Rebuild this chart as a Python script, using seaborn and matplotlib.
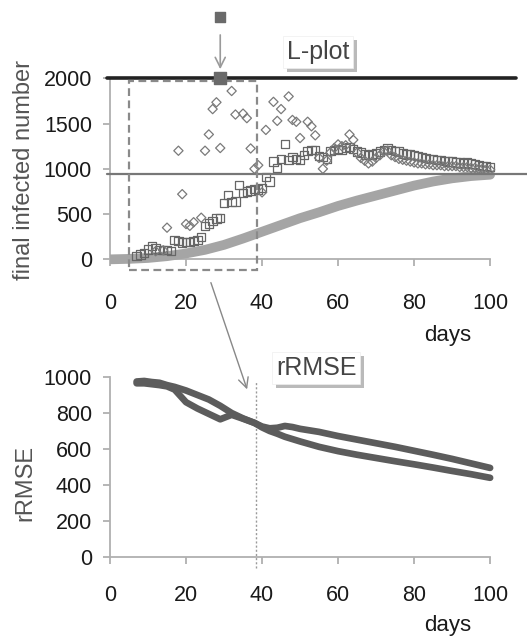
import numpy as np
import pandas as pd
import matplotlib
matplotlib.use("Agg")
import matplotlib.pyplot as plt
import matplotlib.patches as mpatches
import matplotlib.patheffects as pe
import seaborn as sns

# ---------------- data ----------------
sq_days = list(range(7, 101))
sq_vals = [40, 55, 70, 110, 150, 120, 100, 105, 100, 95,            # 7-16
           210, 200, 185, 195, 190, 200, 215, 250, 370, 395,        # 17-26
           420, 450, 460, 620, 710, 630, 640, 820, 730, 750,        # 27-36
           760, 780, 770, 790, 910, 860, 1080, 1010, 1110, 1275,    # 37-46
           1100, 1130, 1110, 1100, 1150, 1200, 1205, 1210, 1140, 1130,  # 47-56
           1110, 1200, 1210, 1220, 1210, 1230, 1240, 1220, 1190, 1180,  # 57-66
           1160, 1150, 1160, 1170, 1190, 1210, 1225, 1210, 1200, 1190,  # 67-76
           1170, 1160, 1160, 1150, 1140, 1130, 1120, 1110, 1110, 1100,  # 77-86
           1100, 1090, 1080, 1080, 1070, 1070, 1060, 1070, 1060, 1050,  # 87-96
           1040, 1030, 1030, 1020]                                  # 97-100

di_days = [12, 14, 15, 18, 19, 20, 21, 22, 24, 25, 26, 27, 28, 29, 32, 33, 35, 36,
           37, 38, 39, 40, 41, 43, 44, 45, 47, 48, 49, 50, 52, 53, 54, 55, 56, 57,
           58, 59, 60, 61, 62, 63, 64, 65, 66, 67, 68, 69, 70, 71, 72, 73, 74, 75,
           76, 77, 78, 79, 80, 81, 82, 83, 84, 85, 86, 87, 88, 89, 90, 91, 92, 93,
           94, 95, 96, 97, 98, 99, 100]
di_vals = [90, 100, 350, 1200, 720, 390, 370, 410, 460, 1200, 1380, 1660, 1735, 1230,
           1860, 1600, 1610, 1560, 1225, 1000, 1040, 740, 1430, 1740, 1530, 1660, 1800,
           1540, 1520, 1340, 1520, 1470, 1370, 1120, 1000, 1090, 1180, 1230, 1270, 1250,
           1260, 1380, 1320, 1180, 1120, 1090, 1060, 1080, 1120, 1150, 1190, 1200, 1150,
           1130, 1110, 1100, 1090, 1080, 1070, 1060, 1060, 1050, 1050, 1040, 1040, 1040,
           1030, 1030, 1030, 1030, 1020, 1020, 1020, 1010, 1010, 1000, 1000, 990, 990]

cum_days = [0, 5, 10, 15, 20, 25, 30, 35, 40, 45, 50, 55, 60, 65, 70, 75, 80, 85, 90, 95, 100]
cum_vals = [0, 5, 15, 35, 65, 105, 160, 230, 305, 380, 455, 520, 590, 650, 705, 760, 815, 860, 895, 920, 935]

best_day = 29
best_val = 2000
threshold = 2000
converged = 940

rm_days = [7, 9, 11, 13, 15, 17, 20, 23, 26, 29, 32, 35, 38, 40, 42, 44, 46, 48, 50,
           55, 60, 65, 70, 75, 80, 85, 90, 95, 100]
rm_a = [975, 978, 972, 968, 955, 945, 925, 900, 875, 840, 800, 770, 745, 725, 715,
        718, 728, 722, 712, 695, 672, 652, 632, 612, 590, 568, 545, 520, 495]
rm_b = [965, 965, 960, 955, 948, 930, 860, 825, 795, 765, 790, 768, 745, 720, 700,
        685, 668, 655, 642, 612, 588, 568, 550, 532, 515, 497, 478, 460, 440]

sel_day = 38.4
box_day0, box_day1 = 5.1, 38.6

xticks = [0, 20, 40, 60, 80, 100]
yticks_top = [0, 500, 1000, 1500, 2000]
yticks_bot = [0, 200, 400, 600, 800, 1000]

# ---------------- style ----------------
sns.set_style("white")
plt.rcParams['font.family'] = ['Liberation Sans', 'DejaVu Sans']

W, H = 527, 642
fig = plt.figure(figsize=(W / 100, H / 100), dpi=100)

def frac_rect(px_left, py_top, px_right, py_bot):
    return [px_left / W, 1 - py_bot / H, (px_right - px_left) / W, (py_bot - py_top) / H]

ax1 = fig.add_axes(frac_rect(110, 73.8, 527, 270.2))
ax2 = fig.add_axes(frac_rect(110, 368.0, 527, 567.8))

# ---------------- top panel ----------------
df_cum = pd.DataFrame({'day': cum_days, 'val': cum_vals})
sns.lineplot(data=df_cum, x='day', y='val', ax=ax1, color='#a5a5a5', lw=7,
             solid_capstyle='round', zorder=2)

df_sq = pd.DataFrame({'day': sq_days, 'val': sq_vals})
sns.scatterplot(data=df_sq, x='day', y='val', ax=ax1, marker='s', s=36,
                facecolor='none', edgecolor='#666666', linewidth=0.9, zorder=3)
df_di = pd.DataFrame({'day': di_days, 'val': di_vals})
sns.scatterplot(data=df_di, x='day', y='val', ax=ax1, marker='D', s=22,
                facecolor='none', edgecolor='#7a7a7a', linewidth=0.9, zorder=3)

ax1.plot([-0.8, 106.8], [threshold, threshold], color='#222222', lw=2.6,
         clip_on=False, zorder=4)
ax1.plot([-0.8, 112], [converged, converged], color='#777777', lw=1.6,
         clip_on=False, zorder=4)

rect = mpatches.Rectangle((box_day0, -118), box_day1 - box_day0, 2090, fill=False,
                          ec='#8a8a8a', lw=1.6, ls=(0, (3.5, 2)), clip_on=False, zorder=5)
ax1.add_patch(rect)

ax1.scatter([best_day], [best_val], marker='s', s=80, color='#6a6a6a', zorder=6,
            clip_on=False)
ax1.scatter([best_day], [2680], marker='s', s=60, color='#6a6a6a', zorder=6,
            clip_on=False)
ax1.annotate('', xy=(best_day, 2070), xytext=(best_day, 2510),
             arrowprops=dict(arrowstyle='->', color='#9a9a9a', lw=1.2,
                             mutation_scale=18), annotation_clip=False)

# ---------------- bottom panel ----------------
df_rm = pd.DataFrame({'day': rm_days + rm_days,
                      'val': rm_a + rm_b,
                      'series': ['a'] * len(rm_days) + ['b'] * len(rm_days)})
sns.lineplot(data=df_rm, x='day', y='val', units='series', estimator=None, ax=ax2,
             color='#5c5c5c', lw=4.8, legend=False, zorder=3)

ax2.plot([sel_day, sel_day], [-62, 975], color='#9a9a9a', lw=1.0, ls=(0, (1.5, 1.5)),
         clip_on=False, zorder=2)

# ---------------- axes styling ----------------
spine_c = '#b0b0b0'
for ax, yt, ylim, xpad in [(ax1, yticks_top, (-120, 2050), 19),
                           (ax2, yticks_bot, (-60, 1050), 15)]:
    ax.set_xlim(0, 109.7)
    ax.set_ylim(*ylim)
    for s in ['top', 'right']:
        ax.spines[s].set_visible(False)
    for s in ['left', 'bottom']:
        ax.spines[s].set_visible(True)
        ax.spines[s].set_color(spine_c)
        ax.spines[s].set_linewidth(1.3)
        ax.spines[s].set_zorder(1)
    ax.spines['bottom'].set_position(('data', 0))
    ax.spines['bottom'].set_bounds(0, 100)
    ax.spines['left'].set_bounds(0, yt[-1])
    ax.set_xticks(xticks)
    ax.set_yticks(yt)
    ax.tick_params(axis='both', direction='out', length=5, width=1.3, color=spine_c,
                   labelsize=15.5, labelcolor='#1a1a1a', bottom=True, left=True)
    ax.tick_params(axis='x', pad=xpad)
    ax.tick_params(axis='y', pad=8)
    ax.set_xlabel('')
    ax.set_ylabel('')
    ax.patch.set_alpha(0)

shadow = [pe.withSimplePatchShadow(offset=(3, -3), shadow_rgbFace='#777777', alpha=0.5)]
t1 = fig.text(318 / W, 1 - 52 / H, 'L-plot', ha='center', va='center', fontsize=18,
              color='#444444',
              bbox=dict(boxstyle='square,pad=0.15', fc='white', ec='#eeeeee', lw=0.5))
t1.get_bbox_patch().set_path_effects(shadow)

fig.text(24 / W, 1 - 170 / H, 'final infected number', rotation=90, ha='center',
         va='center', fontsize=17, color='#555555')
fig.text(448 / W, 1 - 335 / H, 'days', ha='center', va='center', fontsize=16,
         color='#1a1a1a')

t2 = fig.text(316 / W, 1 - 368 / H, 'rRMSE', ha='center', va='center', fontsize=18,
              color='#444444',
              bbox=dict(boxstyle='square,pad=0.15', fc='white', ec='#eeeeee', lw=0.5))
t2.get_bbox_patch().set_path_effects(shadow)

fig.text(25 / W, 1 - 483 / H, 'rRMSE', rotation=90, ha='center', va='center',
         fontsize=17, color='#555555')
fig.text(448 / W, 1 - 625 / H, 'days', ha='center', va='center', fontsize=16,
         color='#1a1a1a')

# connecting arrow between panels
fig.add_artist(mpatches.FancyArrowPatch((210 / W, 1 - 280 / H), (248 / W, 1 - 392 / H),
                                        transform=fig.transFigure, arrowstyle='->',
                                        color='#888888', lw=1.0, mutation_scale=18))

fig.savefig('out.png', dpi=100)
